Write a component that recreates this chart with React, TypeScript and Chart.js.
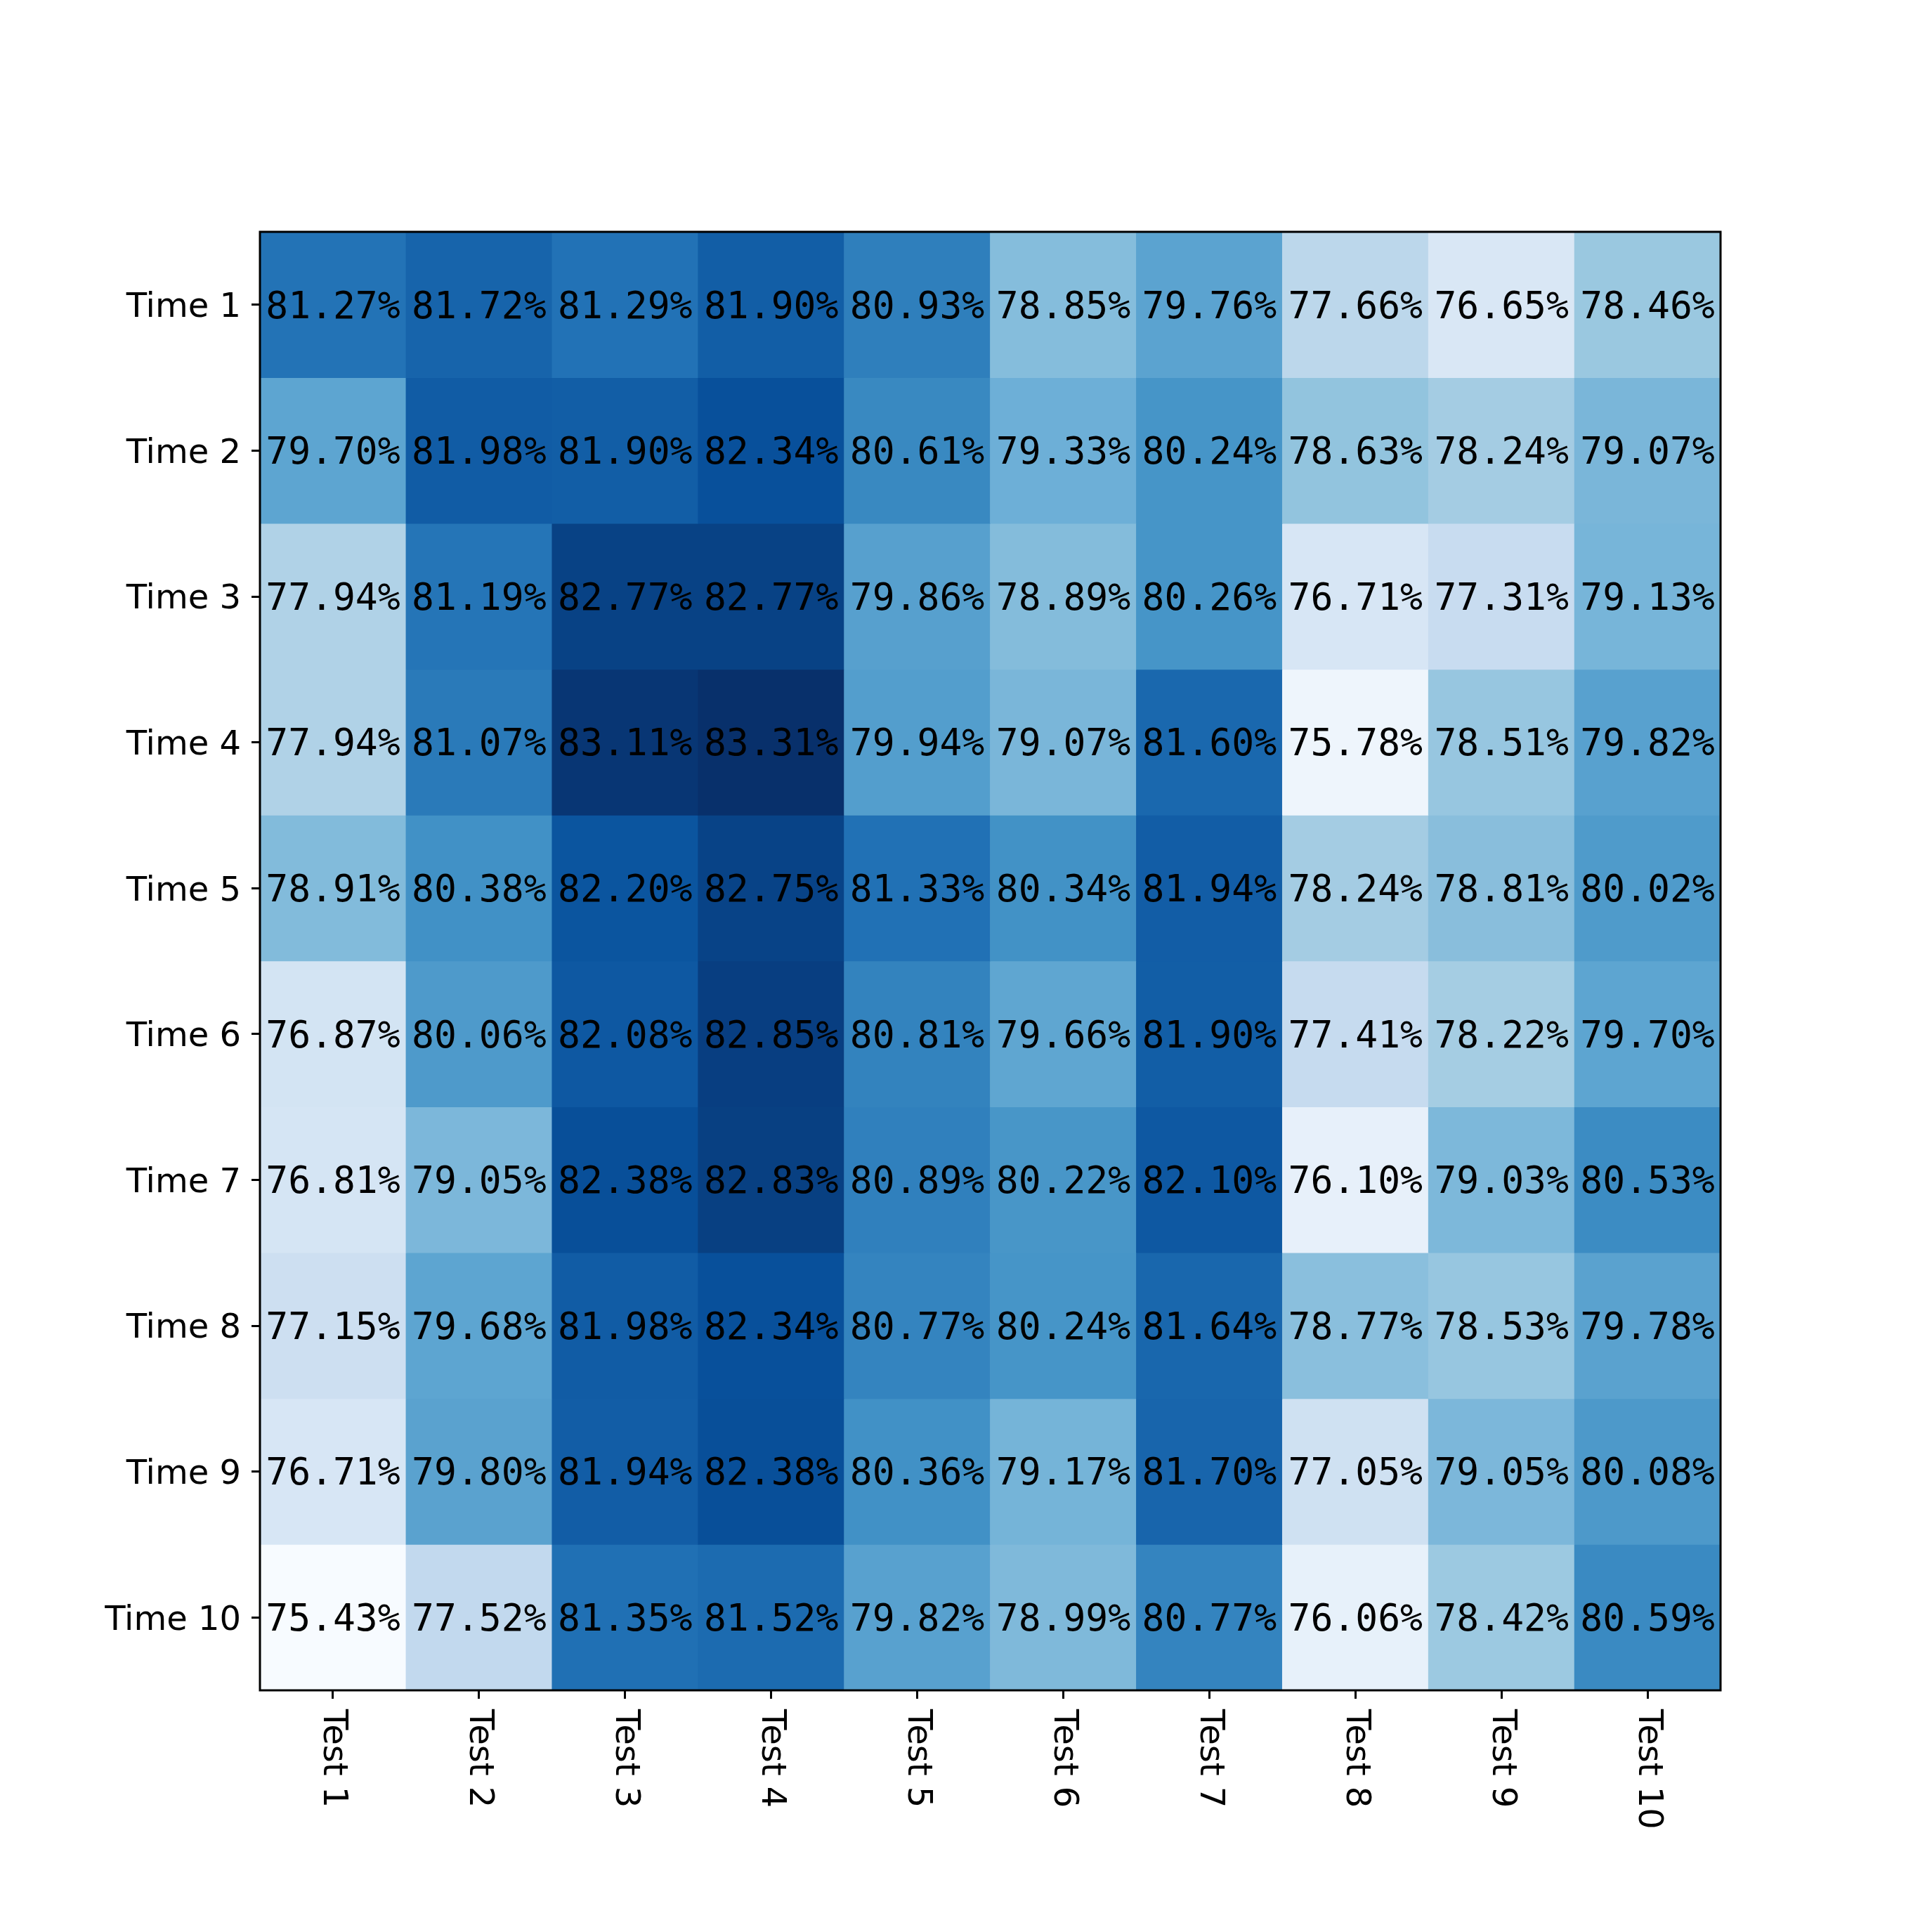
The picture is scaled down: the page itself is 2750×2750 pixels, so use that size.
import React, { useEffect, useRef } from "react";
import { Chart, registerables } from "chart.js";

Chart.register(...registerables);

const tests = ["Test 1", "Test 2", "Test 3", "Test 4", "Test 5", "Test 6", "Test 7", "Test 8", "Test 9", "Test 10"];
const times = ["Time 1", "Time 2", "Time 3", "Time 4", "Time 5", "Time 6", "Time 7", "Time 8", "Time 9", "Time 10"];

const time1 = [81.27, 81.72, 81.29, 81.9, 80.93, 78.85, 79.76, 77.66, 76.65, 78.46];
const time2 = [79.7, 81.98, 81.9, 82.34, 80.61, 79.33, 80.24, 78.63, 78.24, 79.07];
const time3 = [77.94, 81.19, 82.77, 82.77, 79.86, 78.89, 80.26, 76.71, 77.31, 79.13];
const time4 = [77.94, 81.07, 83.11, 83.31, 79.94, 79.07, 81.6, 75.78, 78.51, 79.82];
const time5 = [78.91, 80.38, 82.2, 82.75, 81.33, 80.34, 81.94, 78.24, 78.81, 80.02];
const time6 = [76.87, 80.06, 82.08, 82.85, 80.81, 79.66, 81.9, 77.41, 78.22, 79.7];
const time7 = [76.81, 79.05, 82.38, 82.83, 80.89, 80.22, 82.1, 76.1, 79.03, 80.53];
const time8 = [77.15, 79.68, 81.98, 82.34, 80.77, 80.24, 81.64, 78.77, 78.53, 79.78];
const time9 = [76.71, 79.8, 81.94, 82.38, 80.36, 79.17, 81.7, 77.05, 79.05, 80.08];
const time10 = [75.43, 77.52, 81.35, 81.52, 79.82, 78.99, 80.77, 76.06, 78.42, 80.59];

const rows = [time1, time2, time3, time4, time5, time6, time7, time8, time9, time10];

// matplotlib "Blues" colormap anchors
const BLUES: number[][] = [
  [0.9686, 0.9843, 1.0],
  [0.8706, 0.9216, 0.9686],
  [0.7765, 0.8588, 0.9373],
  [0.6196, 0.7922, 0.8824],
  [0.4196, 0.6824, 0.8392],
  [0.2588, 0.5725, 0.7765],
  [0.1294, 0.4431, 0.7098],
  [0.0314, 0.3176, 0.6118],
  [0.0314, 0.1882, 0.4196],
];

function blues(t: number): string {
  let idx = Math.floor(t * 256);
  if (idx > 255) idx = 255;
  if (idx < 0) idx = 0;
  const f = (idx / 255) * (BLUES.length - 1);
  const i = Math.min(Math.floor(f), BLUES.length - 2);
  const r = f - i;
  const c = BLUES[i].map((v, k) => v + (BLUES[i + 1][k] - v) * r);
  return `rgb(${Math.round(c[0] * 255)},${Math.round(c[1] * 255)},${Math.round(c[2] * 255)})`;
}

export default function App() {
  const ref = useRef<HTMLCanvasElement | null>(null);

  useEffect(() => {
    const canvas = ref.current;
    if (!canvas) return;
    const all = rows.flat();
    const vmin = Math.min(...all);
    const vmax = Math.max(...all);

    const datasets = rows.map((row, i) => ({
      label: times[i],
      data: row.map(() => [i - 0.5, i + 0.5]),
      backgroundColor: row.map((v) => blues((v - vmin) / (vmax - vmin))),
      borderWidth: 0,
      barPercentage: 1,
      categoryPercentage: 1,
      grouped: false,
    }));

    const TICK = 12;
    const PAD = 15;

    const overlay = {
      id: "overlay",
      afterDatasetsDraw(chart: any) {
        const ctx = chart.ctx;
        const area = chart.chartArea;
        const xs = chart.scales.x;
        const ys = chart.scales.y;
        // cell annotations
        ctx.save();
        ctx.fillStyle = "#000";
        ctx.font = '53px "DejaVu Sans Mono"';
        ctx.textAlign = "center";
        ctx.textBaseline = "middle";
        rows.forEach((row, i) => {
          row.forEach((v, j) => {
            const x = xs.getPixelForValue(j);
            const y = ys.getPixelForValue(i);
            ctx.fillText(v.toFixed(2) + "%", x, y + 5);
          });
        });
        ctx.restore();
        // frame
        ctx.save();
        ctx.strokeStyle = "#000";
        ctx.lineWidth = 3;
        ctx.strokeRect(area.left, area.top, area.right - area.left, area.bottom - area.top);
        ctx.restore();
        // y tick labels
        ctx.save();
        ctx.fillStyle = "#000";
        ctx.font = '48px "DejaVu Sans"';
        ctx.textAlign = "right";
        ctx.textBaseline = "middle";
        times.forEach((t, i) => {
          const y = ys.getPixelForValue(i);
          ctx.fillText(t, area.left - TICK - PAD, y + 5);
        });
        ctx.restore();
        // rotated x tick labels (reading top to bottom)
        ctx.save();
        ctx.fillStyle = "#000";
        ctx.font = '48px "DejaVu Sans"';
        ctx.textAlign = "left";
        ctx.textBaseline = "middle";
        tests.forEach((t, j) => {
          const x = xs.getPixelForValue(j);
          ctx.save();
          ctx.translate(x, area.bottom + TICK + PAD);
          ctx.rotate(Math.PI / 2);
          ctx.fillText(t, 0, 0);
          ctx.restore();
        });
        ctx.restore();
      },
    };

    const chart = new Chart(canvas, {
      type: "bar",
      data: { labels: tests, datasets: datasets as any },
      options: {
        responsive: false,
        animation: false,
        devicePixelRatio: 1,
        layout: { padding: { left: 0, top: 330, right: 301, bottom: 0 } },
        plugins: { legend: { display: false }, tooltip: { enabled: false } },
        scales: {
          x: {
            type: "category",
            offset: true,
            grid: {
              display: true,
              offset: false,
              drawOnChartArea: false,
              drawTicks: true,
              tickLength: TICK,
              lineWidth: 3,
              color: "#000",
            },
            border: { display: false },
            ticks: { display: false },
            afterFit: (scale: any) => {
              scale.height = 344;
            },
          },
          y: {
            type: "linear",
            min: -0.5,
            max: 9.5,
            reverse: true,
            grid: {
              display: true,
              drawOnChartArea: false,
              drawTicks: true,
              tickLength: TICK,
              lineWidth: 3,
              color: "#000",
            },
            border: { display: false },
            afterBuildTicks: (scale: any) => {
              scale.ticks = times.map((_, i) => ({ value: i }));
            },
            ticks: { display: false },
            afterFit: (scale: any) => {
              scale.width = 370;
            },
          },
        },
      },
      plugins: [overlay],
    });

    return () => chart.destroy();
  }, []);

  return (
    <div style={{ position: "absolute", left: 0, top: 0, width: 2750, height: 2750, background: "#fff" }}>
      <canvas ref={ref} width={2750} height={2750} style={{ width: 2750, height: 2750, display: "block" }} />
    </div>
  );
}
